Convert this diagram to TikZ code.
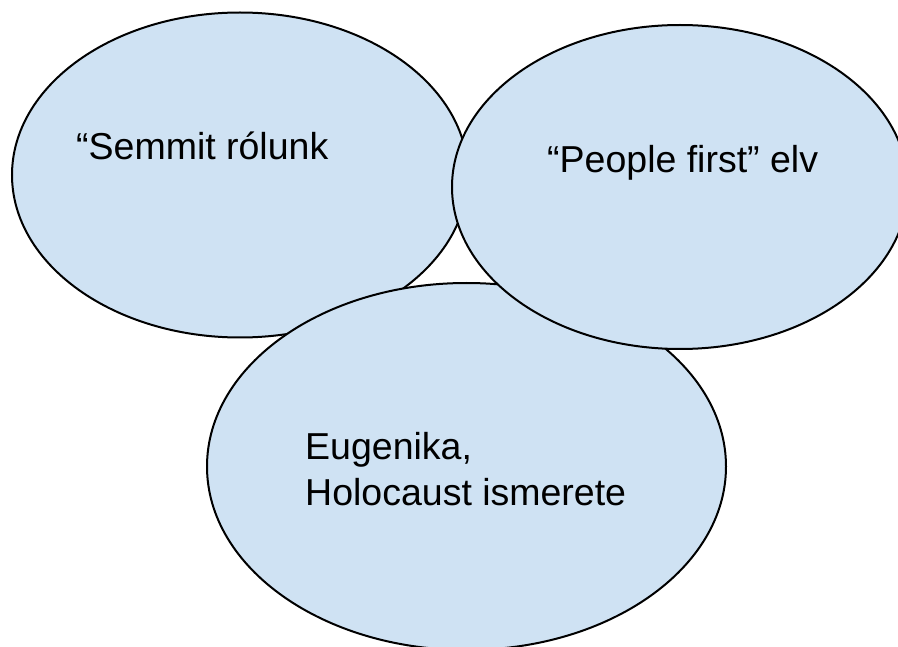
\documentclass[tikz,border=0pt]{standalone}
\usepackage{fontspec}
\setmainfont{Liberation Sans}
\usetikzlibrary{shapes.geometric}
\definecolor{bubblefill}{HTML}{CFE2F3}
\tikzset{
  bubble/.style={ellipse, draw=black, fill=bubblefill, line width=2pt, inner sep=0pt, outer sep=0pt},
  label/.style={anchor=base west, inner sep=0pt, font=\fontsize{37.5}{45}\selectfont, align=left}
}
\begin{document}
\begin{tikzpicture}[x=1pt,y=-1pt]
\useasboundingbox (0,0) rectangle (898,647);
\node[bubble, minimum width=456pt, minimum height=325pt] (left) at (240,175) {};
\node[bubble, minimum width=519pt, minimum height=367pt] (bottom) at (466.5,466.5) {};
\node[bubble, minimum width=456pt, minimum height=324pt] (right) at (680,187) {};
\node[label] (t1) at (76,160) {“Semmit rólunk};
\node[label] (t2) at (547,173) {“People first” elv};
\node[label] (t3) at (305,459) {Eugenika,};
\node[label] (t4) at (305,505) {Holocaust ismerete};
\end{tikzpicture}
\end{document}
